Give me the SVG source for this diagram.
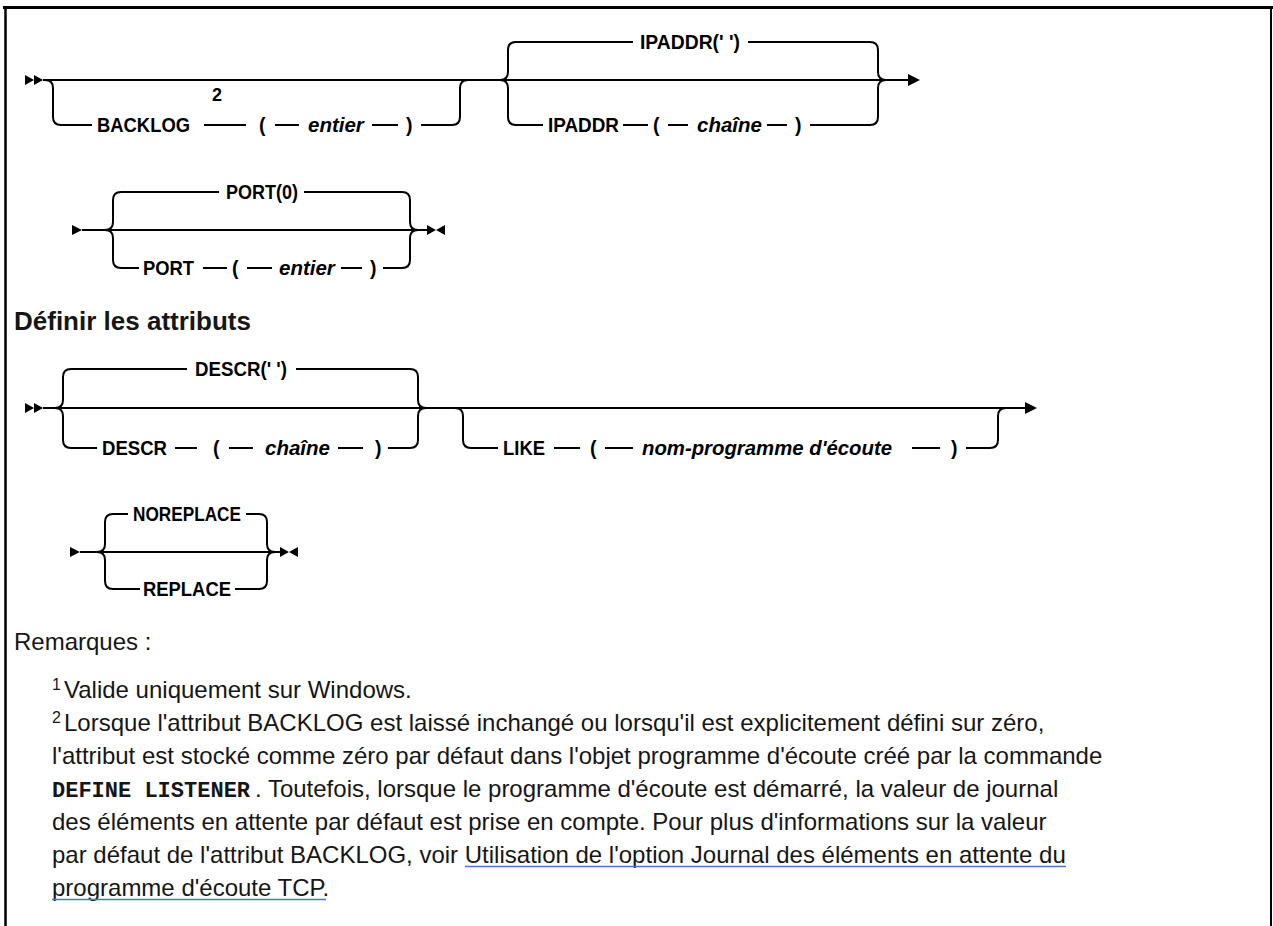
<svg xmlns="http://www.w3.org/2000/svg" width="1273" height="926" viewBox="0 0 1273 926">
<style>
.ln{fill:none;stroke:#000;stroke-width:2}
.ah{fill:#000;stroke:none}
.kw{font-family:"Liberation Sans",Arial,sans-serif;font-weight:bold;font-size:19.5px;fill:#000}
.var{font-family:"Liberation Sans",Arial,sans-serif;font-weight:bold;font-style:italic;font-size:20.5px;fill:#000}
.sup{font-family:"Liberation Sans",Arial,sans-serif;font-weight:bold;font-size:18px;fill:#000}
.note{font-family:"Liberation Sans",Arial,sans-serif;font-size:24px;fill:#161616}
.nsup{font-family:"Liberation Sans",Arial,sans-serif;font-size:16px;fill:#161616}
.mono{font-family:"Liberation Mono","DejaVu Sans Mono",monospace;font-weight:bold;font-size:22px;fill:#161616}
.head{font-family:"Liberation Sans",Arial,sans-serif;font-weight:bold;font-size:26px;fill:#161616}
.frame{fill:none;stroke:#000}
.link{fill:none;stroke:#4a78c8;stroke-width:1.5}
</style>
<rect x="0" y="0" width="1273" height="926" fill="#fff"/>
<g id="frame">
<path class="frame" stroke-width="3" d="M3 7.5 H1273"/>
<path class="frame" stroke-width="2.5" d="M5.5 6 V926"/>
<path class="frame" stroke-width="2" d="M1271 6 V926"/>
</g>
<g id="connectors">
<path class="ln" d="M43 80 H908"/>
<path class="ah" d="M25 75 L34 80 L25 85 Z M34 75 L43 80 L34 85 Z"/>
<path class="ah" d="M908 74 L920 80 L908 86 Z"/>
<path class="ln" d="M82 230 H427"/>
<path class="ah" d="M72 225 L82 230 L72 235 Z"/>
<path class="ah" d="M427 225 L436 230 L427 235 Z M445 225 L436 230 L445 235 Z"/>
<path class="ln" d="M43 408 H1025"/>
<path class="ah" d="M25 403 L34 408 L25 413 Z M34 403 L43 408 L34 413 Z"/>
<path class="ah" d="M1025 402 L1037 408 L1025 414 Z"/>
<path class="ln" d="M80 552 H280"/>
<path class="ah" d="M70 547 L80 552 L70 557 Z"/>
<path class="ah" d="M280 547 L289 552 L280 557 Z M298 547 L289 552 L298 557 Z"/>
</g>
<g id="backlog">
<path class="ln" d="M45 80 Q53 80 53 88 V117 Q53 125 61 125 H92"/>
<text class="kw" x="97" y="132" textLength="93" lengthAdjust="spacingAndGlyphs">BACKLOG</text>
<text class="sup" x="212" y="101">2</text>
<path class="ln" d="M204 125 H246"/>
<text class="kw" x="259" y="132">(</text>
<path class="ln" d="M275 125 H299"/>
<text class="var" x="308" y="132">entier</text>
<path class="ln" d="M372 125 H398"/>
<text class="kw" x="406" y="132">)</text>
<path class="ln" d="M421 125 H452 Q460 125 460 117 V88 Q460 80 468 80"/>
</g>
<g id="ipaddr">
<path class="ln" d="M500 80 Q508 80 508 72 V50 Q508 42 516 42 H633"/>
<text class="kw" x="640" y="49" textLength="100" lengthAdjust="spacingAndGlyphs">IPADDR(' ')</text>
<path class="ln" d="M748 42 H870 Q878 42 878 50 V72 Q878 80 886 80"/>
<path class="ln" d="M500 80 Q508 80 508 88 V117 Q508 125 516 125 H543"/>
<text class="kw" x="548" y="132" textLength="71" lengthAdjust="spacingAndGlyphs">IPADDR</text>
<path class="ln" d="M623 125 H648"/>
<text class="kw" x="653" y="132">(</text>
<path class="ln" d="M668 125 H688"/>
<text class="var" x="697" y="132">chaîne</text>
<path class="ln" d="M767 125 H787"/>
<text class="kw" x="795" y="132">)</text>
<path class="ln" d="M810 125 H870 Q878 125 878 117 V88 Q878 80 886 80"/>
</g>
<g id="port">
<path class="ln" d="M105 230 Q113 230 113 222 V200 Q113 192 121 192 H219"/>
<text class="kw" x="226" y="199" textLength="72" lengthAdjust="spacingAndGlyphs">PORT(0)</text>
<path class="ln" d="M304 192 H402 Q410 192 410 200 V222 Q410 230 418 230"/>
<path class="ln" d="M105 230 Q113 230 113 238 V260 Q113 268 121 268 H139"/>
<text class="kw" x="143" y="275" textLength="51" lengthAdjust="spacingAndGlyphs">PORT</text>
<path class="ln" d="M203 268 H227"/>
<text class="kw" x="232" y="275">(</text>
<path class="ln" d="M247 268 H272"/>
<text class="var" x="279" y="275">entier</text>
<path class="ln" d="M341 268 H362"/>
<text class="kw" x="370" y="275">)</text>
<path class="ln" d="M383 268 H402 Q410 268 410 260 V238 Q410 230 418 230"/>
</g>
<g id="heading">
<text class="head" x="14" y="330">Définir les attributs</text>
</g>
<g id="descr">
<path class="ln" d="M55 408 Q63 408 63 400 V377 Q63 369 71 369 H187"/>
<text class="kw" x="195" y="376" textLength="92" lengthAdjust="spacingAndGlyphs">DESCR(' ')</text>
<path class="ln" d="M296 369 H410 Q418 369 418 377 V400 Q418 408 426 408"/>
<path class="ln" d="M55 408 Q63 408 63 416 V440 Q63 448 71 448 H97"/>
<text class="kw" x="102" y="455" textLength="65" lengthAdjust="spacingAndGlyphs">DESCR</text>
<path class="ln" d="M175 448 H197"/>
<text class="kw" x="213" y="455">(</text>
<path class="ln" d="M229 448 H253"/>
<text class="var" x="265" y="455">chaîne</text>
<path class="ln" d="M338 448 H363"/>
<text class="kw" x="375" y="455">)</text>
<path class="ln" d="M388 448 H410 Q418 448 418 440 V416 Q418 408 426 408"/>
</g>
<g id="like">
<path class="ln" d="M455 408 Q463 408 463 416 V440 Q463 448 471 448 H498"/>
<text class="kw" x="503" y="455" textLength="42" lengthAdjust="spacingAndGlyphs">LIKE</text>
<path class="ln" d="M554 448 H580"/>
<text class="kw" x="590" y="455">(</text>
<path class="ln" d="M605 448 H633"/>
<text class="var" x="642" y="455" textLength="250" lengthAdjust="spacingAndGlyphs">nom-programme d'écoute</text>
<path class="ln" d="M912 448 H940"/>
<text class="kw" x="951" y="455">)</text>
<path class="ln" d="M966 448 H990 Q998 448 998 440 V416 Q998 408 1006 408"/>
</g>
<g id="replace">
<path class="ln" d="M97 552 Q105 552 105 544 V522 Q105 514 113 514 H128"/>
<text class="kw" x="133" y="521" textLength="108" lengthAdjust="spacingAndGlyphs">NOREPLACE</text>
<path class="ln" d="M246 514 H259 Q267 514 267 522 V544 Q267 552 275 552"/>
<path class="ln" d="M97 552 Q105 552 105 560 V581 Q105 589 113 589 H140"/>
<text class="kw" x="143" y="596" textLength="88" lengthAdjust="spacingAndGlyphs">REPLACE</text>
<path class="ln" d="M235 589 H259 Q267 589 267 581 V560 Q267 552 275 552"/>
</g>
<g id="notes">
<text class="note" x="14" y="650">Remarques :</text>
<text class="nsup" x="52" y="690">1</text>
<text class="note" x="64" y="698">Valide uniquement sur Windows.</text>
<text class="nsup" x="52" y="723">2</text>
<text class="note" x="64" y="731">Lorsque l'attribut BACKLOG est laissé inchangé ou lorsqu'il est explicitement défini sur zéro,</text>
<text class="note" x="52" y="764">l'attribut est stocké comme zéro par défaut dans l'objet programme d'écoute créé par la commande</text>
<text class="mono" x="52" y="797">DEFINE LISTENER</text>
<text class="note" x="255" y="797">. Toutefois, lorsque le programme d'écoute est démarré, la valeur de journal</text>
<text class="note" x="52" y="830">des éléments en attente par défaut est prise en compte. Pour plus d'informations sur la valeur</text>
<text class="note" x="52" y="863">par défaut de l'attribut BACKLOG, voir Utilisation de l'option Journal des éléments en attente du</text>
<path class="link" d="M465 866.5 H1066"/>
<text class="note" x="52" y="896">programme d'écoute TCP.</text>
<path class="link" d="M52 899.5 H326"/>
</g>
</svg>
